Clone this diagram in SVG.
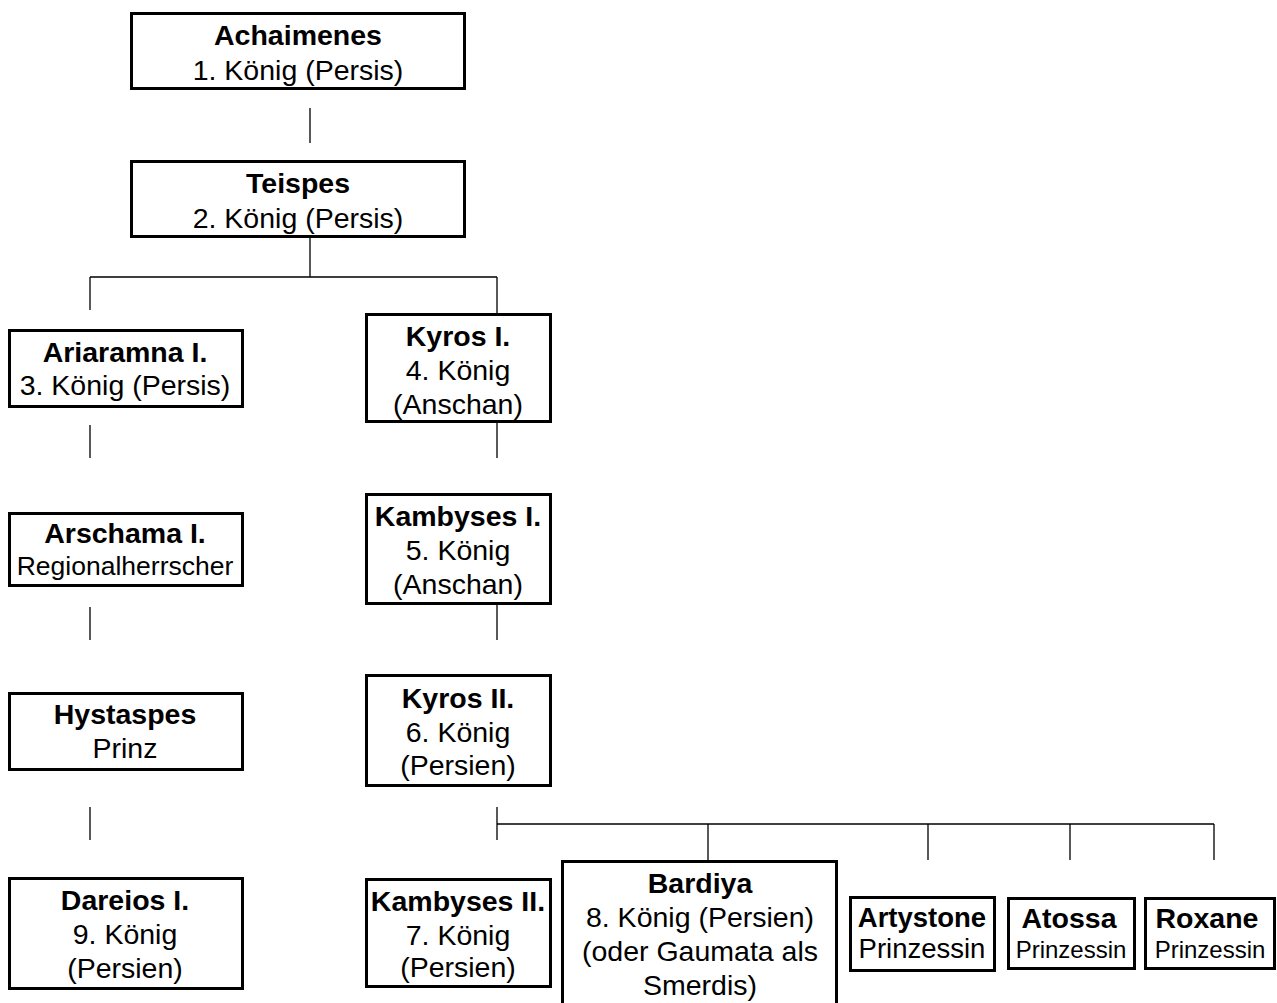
<svg xmlns="http://www.w3.org/2000/svg" width="1277" height="1003" viewBox="0 0 1277 1003">
<style>
.box{fill:#fff;stroke:#000;stroke-width:3}
.c{stroke:#000;stroke-width:1.3;fill:none}
text{font-family:"Liberation Sans",Arial,sans-serif;font-size:28.5px;text-anchor:middle;fill:#000}
.b{font-weight:bold}
.s{font-size:26.5px}
.p{font-size:24px}
</style>
<rect width="1277" height="1003" fill="#fff"/>
<g id="connectors">
<path class="c" d="M310 108V143M310 238V277M90 277H497M90 277V310M497 277V313"/>
<path class="c" d="M90 425V458M90 607V640M90 807V840"/>
<path class="c" d="M497 423V458M497 605V640M497 807V840M497 824H1214M708 824V860M928 824V860M1070 824V860M1214 824V860"/>
</g>
<g id="achaimenes"><rect class="box" x="131.5" y="13.5" width="333" height="75"/><text class="b" x="298" y="45">Achaimenes</text><text x="298" y="80">1. König (Persis)</text></g>
<g id="teispes"><rect class="box" x="131.5" y="161.5" width="333" height="75"/><text class="b" x="298" y="193">Teispes</text><text x="298" y="228">2. König (Persis)</text></g>
<g id="ariaramna"><rect class="box" x="9.5" y="330.5" width="233" height="76"/><text class="b" x="125" y="362">Ariaramna I.</text><text x="125" y="395">3. König (Persis)</text></g>
<g id="kyros1"><rect class="box" x="366.5" y="314.5" width="184" height="107"/><text class="b" x="458" y="346">Kyros I.</text><text x="458" y="380">4. König</text><text x="458" y="414">(Anschan)</text></g>
<g id="arschama"><rect class="box" x="9.5" y="513.5" width="233" height="72"/><text class="b" x="125" y="543">Arschama I.</text><text class="s" x="125" y="575">Regionalherrscher</text></g>
<g id="kambyses1"><rect class="box" x="366.5" y="494.5" width="184" height="109"/><text class="b" x="458" y="526">Kambyses I.</text><text x="458" y="560">5. König</text><text x="458" y="594">(Anschan)</text></g>
<g id="hystaspes"><rect class="box" x="9.5" y="693.5" width="233" height="76"/><text class="b" x="125" y="724">Hystaspes</text><text x="125" y="758">Prinz</text></g>
<g id="kyros2"><rect class="box" x="366.5" y="675.5" width="184" height="110"/><text class="b" x="458" y="708">Kyros II.</text><text x="458" y="742">6. König</text><text x="458" y="775">(Persien)</text></g>
<g id="dareios"><rect class="box" x="9.5" y="878.5" width="233" height="110"/><text class="b" x="125" y="910">Dareios I.</text><text x="125" y="944">9. König</text><text x="125" y="978">(Persien)</text></g>
<g id="kambyses2"><rect class="box" x="366.5" y="879.5" width="184" height="107"/><text class="b" x="458" y="911">Kambyses II.</text><text x="458" y="945">7. König</text><text x="458" y="977">(Persien)</text></g>
<g id="bardiya"><rect class="box" x="562.5" y="861.5" width="274" height="160"/><text class="b" x="700" y="893">Bardiya</text><text x="700" y="927">8. König (Persien)</text><text x="700" y="961">(oder Gaumata als</text><text x="700" y="995">Smerdis)</text></g>
<g id="artystone"><rect class="box" x="850.5" y="897.5" width="144" height="73"/><text class="b" x="922" y="927" style="font-size:27.5px">Artystone</text><text x="922" y="958" style="font-size:27.5px">Prinzessin</text></g>
<g id="atossa"><rect class="box" x="1008.5" y="898.5" width="126" height="70"/><text class="b" x="1069" y="928">Atossa</text><text class="p" x="1071" y="958">Prinzessin</text></g>
<g id="roxane"><rect class="box" x="1145.5" y="898.5" width="129" height="70"/><text class="b" x="1207" y="928">Roxane</text><text class="p" x="1210" y="958">Prinzessin</text></g>
</svg>
